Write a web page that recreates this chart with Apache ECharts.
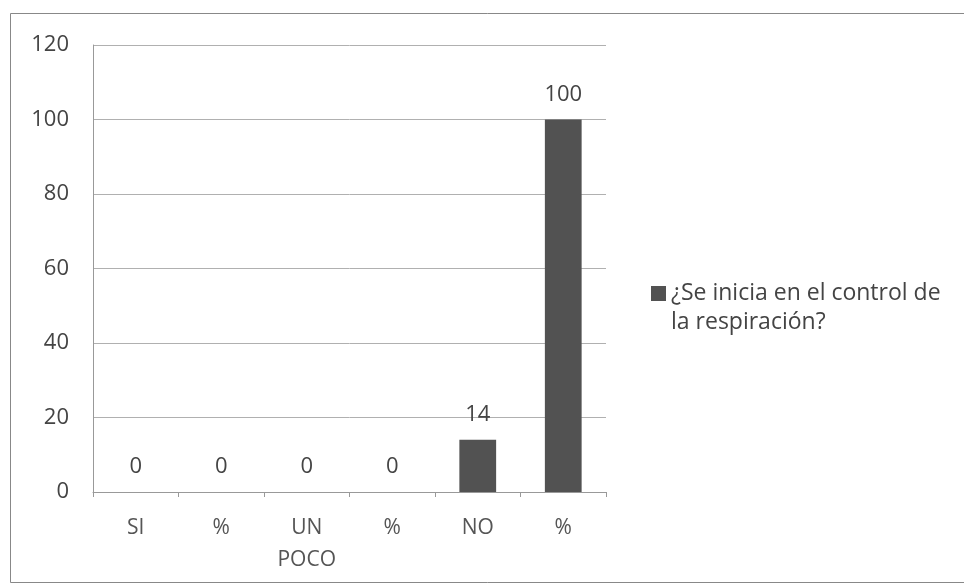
<!DOCTYPE html>
<html>
<head>
<meta charset="utf-8">
<script src="https://cdn.jsdelivr.net/npm/echarts@6/dist/echarts.min.js"></script>
<style>
html,body{margin:0;padding:0;background:#fff;}
#c{width:964px;height:585px;}
</style>
</head>
<body>
<div id="c"></div>
<script>
const categories = ['SI', '%', 'UN\nPOCO', '%', 'NO', '%'];
const values = [0, 0, 0, 0, 14, 100];
const seriesName = '¿Se inicia en el control de\nla respiración?';
const yTicks = { min: 0, max: 120, interval: 20 };

const FONT = '"Open Sans", Lato, sans-serif';
const chart = echarts.init(document.getElementById('c'));
chart.setOption({
  backgroundColor: '#fff',
  animation: false,
  textStyle: { fontFamily: FONT },
  graphic: [{
    type: 'rect',
    shape: { x: 10.5, y: 13.5, width: 1000, height: 569 },
    style: { fill: 'none', stroke: '#888', lineWidth: 1 },
    silent: true
  }],
  grid: { left: 93, right: 358, top: 45, bottom: 93 },
  legend: {
    left: 646, top: 274,
    itemWidth: 15, itemHeight: 44, itemGap: 4,
    icon: 'path://M0,0L15,0L15,15L0,15Z M0,44L0.01,44Z',
    textStyle: { fontFamily: FONT, fontSize: 23, color: '#444', lineHeight: 29 },
    data: [seriesName]
  },
  xAxis: {
    type: 'category',
    data: categories,
    axisLine: { lineStyle: { color: '#999' } },
    axisTick: { show: true, alignWithLabel: false, length: 5, lineStyle: { color: '#999' } },
    axisLabel: { fontFamily: FONT, fontSize: 21, color: '#555', margin: 20, lineHeight: 32, interval: 0 }
  },
  yAxis: {
    type: 'value',
    min: yTicks.min, max: yTicks.max, interval: yTicks.interval,
    axisLine: { show: true, lineStyle: { color: '#999' } },
    axisTick: { show: false },
    axisLabel: { fontFamily: FONT, fontSize: 22, color: '#444', margin: 24 },
    splitLine: { lineStyle: { color: '#b0b0b0', width: 1 } }
  },
  series: [{
    name: seriesName,
    type: 'bar',
    data: values,
    barWidth: '43%',
    itemStyle: { color: '#525252' },
    label: { show: true, position: 'top', distance: 14, fontFamily: FONT, fontSize: 22, color: '#444' }
  }]
});
</script>
</body>
</html>
